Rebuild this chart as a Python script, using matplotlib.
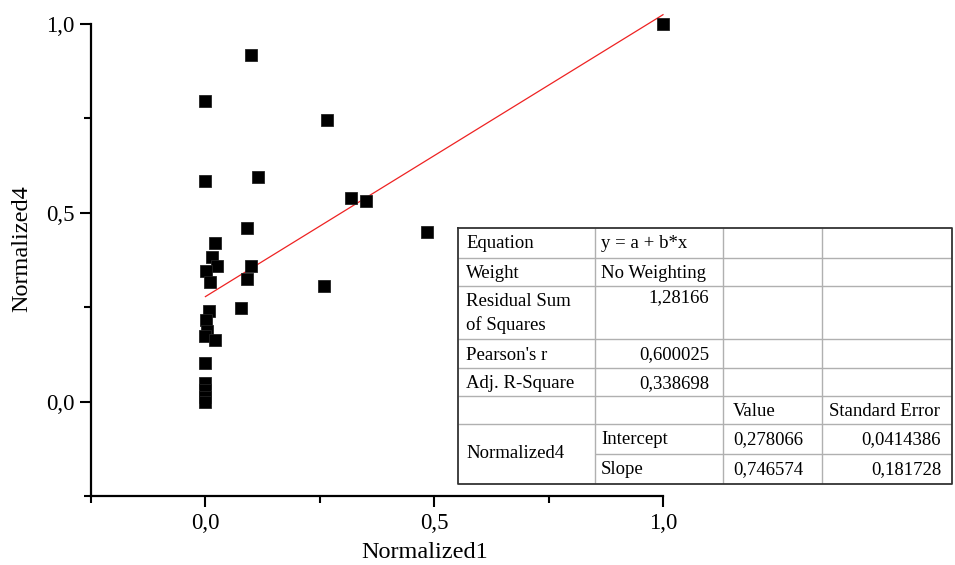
import matplotlib
matplotlib.use("Agg")
import matplotlib.pyplot as plt
from matplotlib.ticker import FuncFormatter, MultipleLocator

plt.rcParams.update({"font.family": ["Liberation Serif", "DejaVu Serif"]})

# data
norm1 = [1.0, 0.099, 0.0, 0.265, 0.0, 0.116, 0.318, 0.351, 0.485, 0.090,
         0.020, 0.015, 0.026, 0.002, 0.099, 0.092, 0.011, 0.259, 0.077, 0.008,
         0.002, 0.004, 0.0, 0.022, 0.0, 0.0, 0.0, 0.0, 0.0]
norm4 = [1.0, 0.918, 0.796, 0.745, 0.584, 0.594, 0.538, 0.531, 0.448, 0.459,
         0.419, 0.382, 0.358, 0.347, 0.358, 0.324, 0.316, 0.305, 0.247, 0.239,
         0.215, 0.188, 0.175, 0.164, 0.103, 0.048, 0.032, 0.013, 0.0]
intercept, slope = 0.278066, 0.746574

table_rows = [
    ["Equation", "y = a + b*x", "", ""],
    ["Weight", "No Weighting", "", ""],
    ["Residual Sum\nof Squares", "1,28166", "", ""],
    ["Pearson's r", "0,600025", "", ""],
    ["Adj. R-Square", "0,338698", "", ""],
    ["", "", "Value", "Standard Error"],
    ["Normalized4", "Intercept", "0,278066", "0,0414386"],
    ["", "Slope", "0,746574", "0,181728"],
]

W, H = 955, 565
fig = plt.figure(figsize=(W / 100, H / 100), dpi=100)
ax = fig.add_axes([91 / W, (H - 496) / H, 572 / W, 472 / H])

ax.plot(norm1, norm4, "s", color="black", ms=8.6, mec="#222222", mew=0.6, zorder=3, clip_on=False)
xl = [min(norm1), max(norm1)]
ax.plot(xl, [intercept + slope * v for v in xl], color="#ee2222", lw=0.9, zorder=2, clip_on=False)

ax.set_xlim(-0.25, 1.0); ax.set_ylim(-0.25, 1.0)
fmt = FuncFormatter(lambda v, p: f"{v:.1f}".replace(".", ","))
for axis in (ax.xaxis, ax.yaxis):
    axis.set_major_locator(MultipleLocator(0.5))
    axis.set_minor_locator(MultipleLocator(0.25))
    axis.set_major_formatter(fmt)
ax.tick_params(which="major", length=8, width=1.5, labelsize=16.5, pad=4, color="black")
ax.tick_params(which="minor", length=5, width=1.5, color="black")
for s in ("top", "right"):
    ax.spines[s].set_visible(False)
for s in ("left", "bottom"):
    ax.spines[s].set_linewidth(1.6)
ax.set_xlabel("Normalized1", fontsize=17.5)
ax.set_ylabel("Normalized4", fontsize=17.5)
ax.xaxis.set_label_coords(0.584, -0.098)
ax.yaxis.set_label_coords(-0.103, 0.525)

# fit-results table, in pixel units of its own box
cols = [458, 595, 723, 822, 952]
rows = [228, 258, 286, 339, 368, 396, 424, 454, 484]
tx = fig.add_axes([cols[0] / W, (H - rows[-1]) / H, (cols[-1] - cols[0]) / W, (rows[-1] - rows[0]) / H])
tx.set_xlim(cols[0], cols[-1]); tx.set_ylim(rows[-1], rows[0]); tx.axis("off")
inner = "#b0b0b0"
for c in cols[1:-1]:
    tx.vlines(c, rows[0], rows[-1], color=inner, lw=1.0)
for i, r in enumerate(rows[1:-1], start=1):
    x0 = cols[1] if i == 7 else cols[0]
    tx.hlines(r, x0, cols[-1], color=inner, lw=1.0)
tx.plot([cols[0], cols[-1], cols[-1], cols[0], cols[0]],
        [rows[0], rows[0], rows[-1], rows[-1], rows[0]], color="#333333", lw=1.3, clip_on=False)

fs = 13.5
for i, row in enumerate(table_rows):
    top = rows[i]
    for j, txt in enumerate(row):
        if not txt:
            continue
        is_num = txt[0].isdigit()
        if j == 0:
            x, ha = 466, "left"
        elif j == 1:
            x, ha = (709, "right") if is_num else (601, "left")
        elif j == 2:
            x, ha = 733, "left"
        else:
            x, ha = (941, "right") if is_num else (829, "left")
        if i == 6 and j == 0:
            tx.text(x, rows[7], txt, ha=ha, va="center", fontsize=fs)
            continue
        for k, line in enumerate(txt.split("\n")):
            yy = top + 16 + k * 23
            if i == 2 and j == 1:
                yy = top + 12
            tx.text(x, yy, line, ha=ha, va="center", fontsize=fs)

fig.savefig("out.png", dpi=100)
